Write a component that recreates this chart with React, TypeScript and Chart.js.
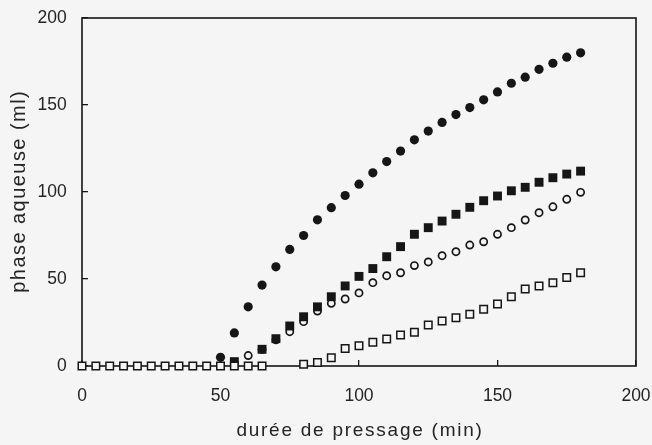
import { useEffect, useRef } from 'react';
import { Chart, registerables } from 'chart.js';

Chart.register(...registerables);

// ---- data ----
const filledCircleX = [50, 55, 60, 65, 70, 75, 80, 85, 90, 95, 100, 105, 110, 115, 120, 125, 130, 135, 140, 145, 150, 155, 160, 165, 170, 175, 180];
const filledCircleY = [5, 19, 34, 46.5, 57, 67, 75, 84, 91, 98, 104.5, 111, 117.5, 123.5, 130, 135, 140, 144.5, 148.5, 153, 157.5, 162.5, 166, 170.5, 174, 177.5, 180];

const filledSquareX = [55, 65, 70, 75, 80, 85, 90, 95, 100, 105, 110, 115, 120, 125, 130, 135, 140, 145, 150, 155, 160, 165, 170, 175, 180];
const filledSquareY = [2.5, 9.6, 15.7, 23, 28.3, 34, 39.8, 46, 51.5, 56, 62.8, 68.6, 75.7, 79.5, 83.3, 87.2, 91.2, 95, 97.7, 100.7, 102.7, 105.6, 108.2, 110.3, 112];

const openCircleX = [60, 65, 70, 75, 80, 85, 90, 95, 100, 105, 110, 115, 120, 125, 130, 135, 140, 145, 150, 155, 160, 165, 170, 175, 180];
const openCircleY = [6, 9.5, 15, 19.7, 25.5, 31.6, 36, 38.5, 42, 47.9, 51.9, 53.6, 57.7, 59.8, 63.4, 65.7, 69.5, 71.4, 75.7, 79.5, 83.9, 88.1, 91.5, 95.8, 99.8];

const openSquareX = [0, 5, 10, 15, 20, 25, 30, 35, 40, 45, 50, 55, 60, 65, 80, 85, 90, 95, 100, 105, 110, 115, 120, 125, 130, 135, 140, 145, 150, 155, 160, 165, 170, 175, 180];
const openSquareY = [0, 0, 0, 0, 0, 0, 0, 0, 0, 0, 0, 0, 0, 0, 1, 2, 4.8, 10, 11.7, 13.6, 15.5, 17.8, 19.4, 23.6, 25.9, 27.8, 29.7, 32.6, 35.6, 39.8, 44.3, 46, 47.9, 50.8, 53.6];

const xTitle = 'durée de pressage (min)';
const yTitle = 'phase aqueuse (ml)';
const axisMin = 0;
const axisMax = 200;
const axisStep = 50;

// ---- style ----
const BG = '#f5f5f5';
const INK = '#161616';
const TEXT = '#242424';
const FONT = "'Liberation Sans', Arial, sans-serif";

const pts = (xs: number[], ys: number[]) => xs.map((x, i) => ({ x, y: ys[i] }));

const framePlugin = {
  id: 'frame',
  beforeDraw(chart: any) {
    const ctx = chart.ctx;
    ctx.save();
    ctx.fillStyle = BG;
    ctx.fillRect(0, 0, chart.width, chart.height);
    ctx.restore();
  },
  beforeDatasetsDraw(chart: any) {
    const { left, top, right, bottom } = chart.chartArea;
    const ctx = chart.ctx;
    ctx.save();
    ctx.strokeStyle = INK;
    ctx.lineWidth = 1.6;
    ctx.strokeRect(left, top, right - left, bottom - top);
    ctx.restore();
  },
  afterDraw(chart: any) {
    const { left, top, right, bottom } = chart.chartArea;
    const ctx = chart.ctx;
    // x axis title
    ctx.save();
    ctx.fillStyle = TEXT;
    ctx.font = `19px ${FONT}`;
    if ('letterSpacing' in ctx) (ctx as any).letterSpacing = '1.75px';
    ctx.textAlign = 'center';
    ctx.textBaseline = 'alphabetic';
    ctx.fillText(xTitle, (left + right) / 2 + 1, 436.3);
    ctx.restore();
    // y axis title
    ctx.save();
    ctx.fillStyle = TEXT;
    ctx.font = `20px ${FONT}`;
    if ('letterSpacing' in ctx) (ctx as any).letterSpacing = '1.45px';
    ctx.textAlign = 'center';
    ctx.textBaseline = 'alphabetic';
    ctx.translate(25, (top + bottom) / 2);
    ctx.rotate(-Math.PI / 2);
    ctx.fillText(yTitle, 0.7, 0);
    ctx.restore();
  },
};

export default function App() {
  const ref = useRef<HTMLCanvasElement>(null);

  useEffect(() => {
    document.body.style.margin = '0';
    const canvas = ref.current;
    if (!canvas) return;
    const chart = new Chart(canvas, {
      type: 'scatter',
      data: {
        datasets: [
          {
            label: 'open squares',
            data: pts(openSquareX, openSquareY),
            pointStyle: 'rect',
            pointRadius: 5.3,
            borderWidth: 1.5,
            borderColor: INK,
            backgroundColor: BG,
            clip: false,
          },
          {
            label: 'filled squares',
            data: pts(filledSquareX, filledSquareY),
            pointStyle: 'rect',
            pointRadius: 6.3,
            borderWidth: 0,
            borderColor: INK,
            backgroundColor: INK,
            clip: false,
          },
          {
            label: 'open circles',
            data: pts(openCircleX, openCircleY),
            pointStyle: 'circle',
            pointRadius: 3.6,
            borderWidth: 1.7,
            borderColor: INK,
            backgroundColor: BG,
            clip: false,
          },
          {
            label: 'filled circles',
            data: pts(filledCircleX, filledCircleY),
            pointStyle: 'circle',
            pointRadius: 4.6,
            borderWidth: 0,
            borderColor: INK,
            backgroundColor: INK,
            clip: false,
          },
        ] as any,
      },
      options: {
        animation: false,
        responsive: false,
        maintainAspectRatio: false,
        layout: { padding: { top: 18, right: 16, left: 0, bottom: 0 } },
        plugins: {
          legend: { display: false },
          tooltip: { enabled: false },
        },
        scales: {
          x: {
            type: 'linear',
            min: axisMin,
            max: axisMax,
            afterFit(scale: any) {
              scale.height = 79;
              scale.paddingLeft = 0;
              scale.paddingRight = 0;
            },
            ticks: {
              stepSize: axisStep,
              autoSkip: false,
              maxRotation: 0,
              padding: 26,
              color: TEXT,
              font: { family: FONT, size: 17.5 },
            },
            grid: {
              drawOnChartArea: false,
              drawTicks: true,
              tickLength: -6,
              color: INK,
              lineWidth: 1.3,
            },
            border: { display: false },
            title: { display: false, text: xTitle },
          },
          y: {
            type: 'linear',
            min: axisMin,
            max: axisMax,
            afterFit(scale: any) {
              scale.width = 82;
              scale.paddingTop = 0;
              scale.paddingBottom = 0;
            },
            ticks: {
              stepSize: axisStep,
              autoSkip: false,
              padding: 21.3,
              color: TEXT,
              font: { family: FONT, size: 17.5 },
            },
            grid: {
              drawOnChartArea: false,
              drawTicks: true,
              tickLength: -6,
              color: INK,
              lineWidth: 1.3,
            },
            border: { display: false },
            title: { display: false, text: yTitle },
          },
        },
      } as any,
      plugins: [framePlugin],
    });
    return () => chart.destroy();
  }, []);

  return (
    <div style={{ position: 'absolute', left: 0, top: 0, width: 652, height: 445, background: BG }}>
      <canvas ref={ref} width={652} height={445} style={{ display: 'block', width: 652, height: 445 }} />
    </div>
  );
}
